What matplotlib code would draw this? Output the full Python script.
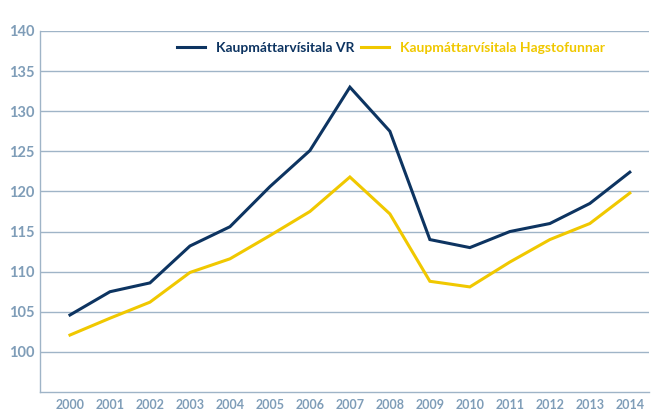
import matplotlib
matplotlib.use("Agg")
import matplotlib.pyplot as plt
from matplotlib.ticker import FixedLocator

years = [str(y) for y in range(2000, 2015)]
vr = [104.6, 107.5, 108.6, 113.2, 115.6, 120.6, 125.1, 133.0, 127.5, 114.0, 113.0, 115.0, 116.0, 118.5, 122.4]
hagstofa = [102.1, 104.2, 106.2, 109.9, 111.6, 114.5, 117.5, 121.8, 117.2, 108.8, 108.1, 111.2, 114.0, 116.0, 119.8]
yticks = [100, 105, 110, 115, 120, 125, 130, 135, 140]
labels = ["Kaupmáttarvísitala VR", "Kaupmáttarvísitala Hagstofunnar"]

navy = "#0d3461"
yellow = "#f0c800"
txt = "#7f9db8"
grid = "#9fb4c7"

plt.rcParams['font.family'] = ['Lato', 'DejaVu Sans']

fig = plt.figure(figsize=(6.56, 4.12), dpi=100)
ax = fig.add_axes([40/656, 20/412, 609/656, 361/412])
x = list(range(len(years)))
ax.plot(x, vr, color=navy, lw=2.2, label=labels[0], solid_joinstyle='miter')
ax.plot(x, hagstofa, color=yellow, lw=2.2, label=labels[1], solid_joinstyle='miter')

ax.set_ylim(95, 140)
ax.set_xlim(-0.75, 14.48)
ax.yaxis.set_major_locator(FixedLocator(yticks))
ax.set_xticks(x)
ax.set_xticklabels(years)
for t in yticks:
    ax.axhline(t, color=grid, lw=1.0, zorder=0)
for s in ['top', 'right']:
    ax.spines[s].set_visible(False)
for s in ['left', 'bottom']:
    ax.spines[s].set_color(grid)
    ax.spines[s].set_linewidth(1.0)
ax.tick_params(axis='both', length=0, colors=txt)
ax.tick_params(axis='x', pad=5, labelsize=9)
ax.tick_params(axis='y', pad=4, labelsize=10.5)
for lab in ax.get_xticklabels() + ax.get_yticklabels():
    lab.set_fontweight('bold')

leg = ax.legend(loc='upper center', bbox_to_anchor=(0.576, 1.005), ncol=2, frameon=False,
                handlelength=2.0, columnspacing=0.5, handletextpad=0.8,
                prop={'weight': 'bold', 'size': 10})
for text, c in zip(leg.get_texts(), [navy, yellow]):
    text.set_color(c)

fig.savefig("out.png", dpi=100)
